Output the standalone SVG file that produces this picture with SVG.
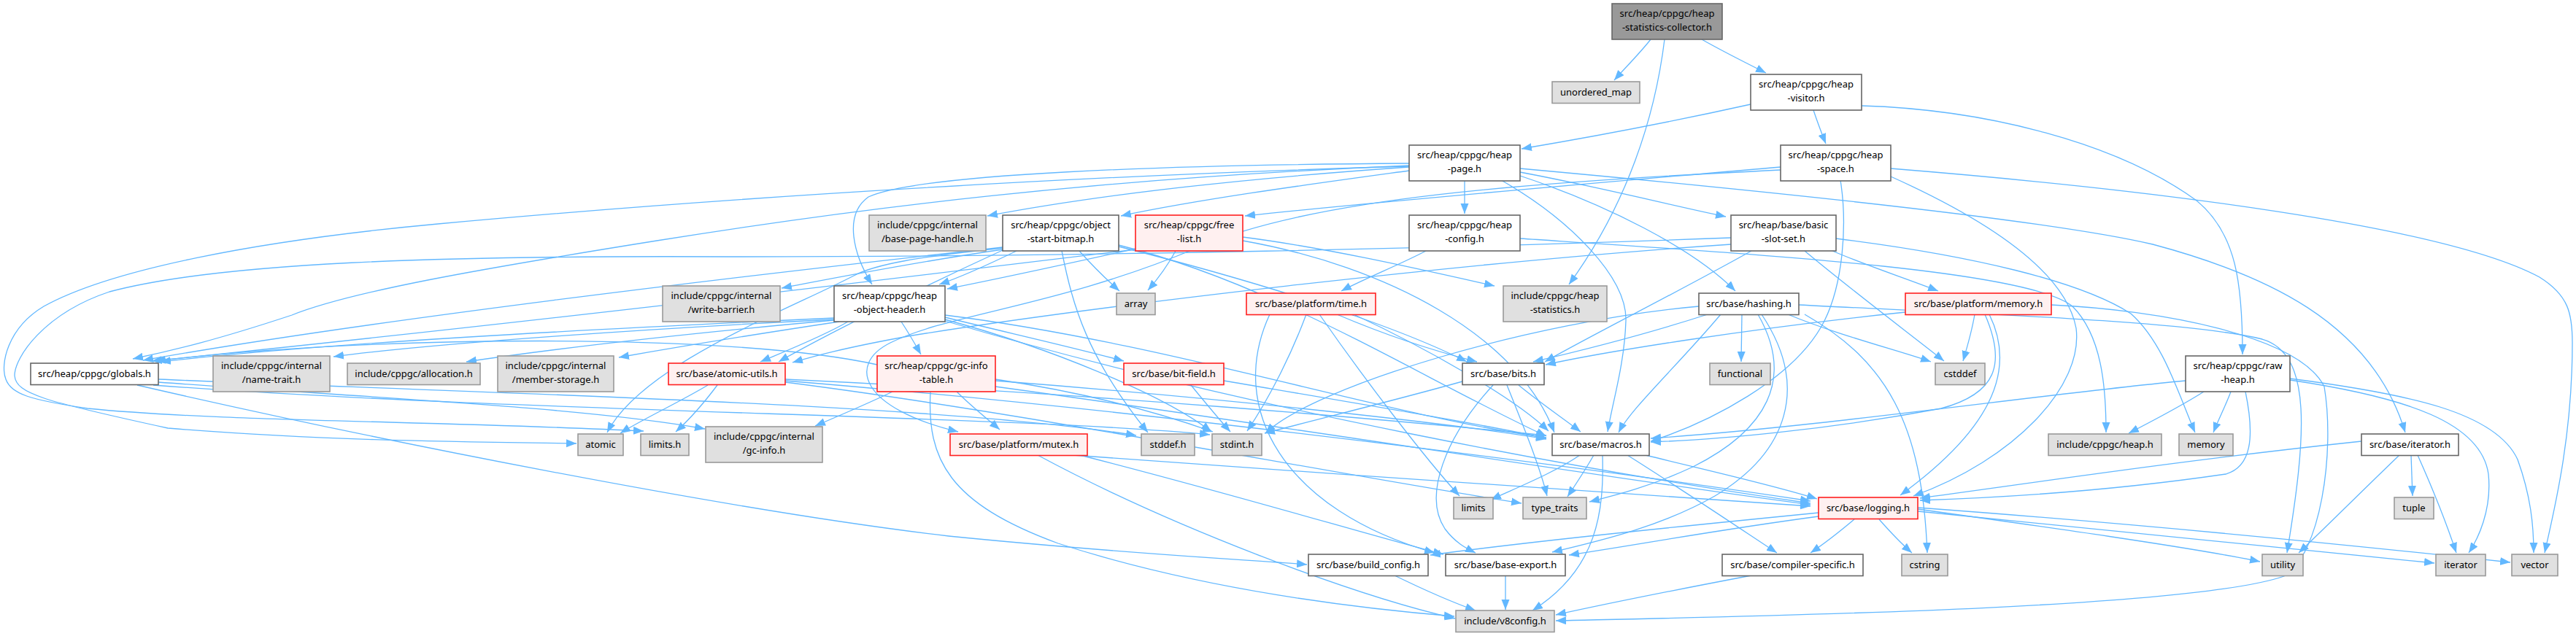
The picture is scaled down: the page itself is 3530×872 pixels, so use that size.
<svg xmlns="http://www.w3.org/2000/svg" width="3530" height="872" viewBox="0 0 3530 872">
<style>
rect{stroke-width:1.6}
.n rect{fill:#ffffff;stroke:#666666}
.g rect{fill:#e0e0e0;stroke:#999999}
.r rect{fill:#fff0f0;stroke:#ff2020}
.root rect{fill:#999999;stroke:#666666}
text{font-family:"Noto Sans","Open Sans",sans-serif;font-size:13px;text-anchor:middle;fill:#000}
#edges path{fill:none;stroke:#63b8ff;stroke-width:1.3;marker-end:url(#a)}
</style>
<defs>
<marker id="a" markerUnits="userSpaceOnUse" markerWidth="15" markerHeight="12" refX="14" refY="5.5" orient="auto"><path d="M0,0 L14,5.5 L0,11 Z" fill="#63b8ff" stroke="none"/></marker>
</defs>
<rect x="0" y="0" width="3530" height="872" fill="#ffffff"/>
<g id="edges">
<path d="M2262,54 C2248,72 2228,92 2212,110"/>
<path d="M2281,54 C2268,160 2230,280 2150,390"/>
<path d="M2332,54 C2360,70 2392,86 2420,100"/>
<path d="M2399,143 C2300,165 2180,188 2085,204"/>
<path d="M2485,151 C2490,166 2496,182 2502,197"/>
<path d="M2551,145 C2720,150 2900,195 3010,275 C3065,320 3073,390 3073,486"/>
<path d="M2440,229 C2200,250 1900,275 1706,296"/>
<path d="M2440,233 C2100,250 1800,270 1640,340 C1450,420 1300,430 1220,470 C1160,500 1180,560 1313,592"/>
<path d="M2522,247 C2532,310 2525,390 2500,440 C2460,520 2340,580 2262,605"/>
<path d="M2591,242 C2720,300 2830,370 2845,450 C2855,530 2760,630 2622,680"/>
<path d="M2591,231 C2950,260 3350,310 3480,380 C3520,405 3525,430 3525,470 C3525,600 3500,700 3487,758"/>
<path d="M2007,248 L2007,293"/>
<path d="M1931,229 C1700,245 1500,268 1353,296"/>
<path d="M1931,234 C1800,252 1650,272 1536,296"/>
<path d="M1931,224 C1600,226 1260,238 1190,270 C1155,295 1170,350 1195,390"/>
<path d="M1931,227 C1500,245 1180,285 900,330 C650,370 480,400 400,432 C300,465 240,480 182,492"/>
<path d="M1931,228 C1500,240 1000,270 600,307 C350,330 150,370 60,420 C10,450 0,500 8,520 C15,540 40,548 120,560 C300,578 600,577 882,591"/>
<path d="M2083,236 C2200,258 2300,284 2365,297"/>
<path d="M2083,241 C2200,280 2320,340 2378,399"/>
<path d="M2057,247 C2150,300 2230,380 2228,440 C2226,500 2210,550 2203,592"/>
<path d="M2083,231 C2400,260 2800,300 2950,335 C3100,375 3250,440 3296,593"/>
<path d="M1954,344 C1920,362 1870,382 1838,399"/>
<path d="M2083,327 C2400,348 2780,370 2840,420 C2880,460 2886,530 2886,593"/>
<path d="M1479,344 C1495,362 1515,382 1534,399"/>
<path d="M1393,344 C1360,360 1322,378 1287,390"/>
<path d="M1374,342 C1250,360 1150,380 1071,395"/>
<path d="M1374,340 C1260,352 1200,362 1170,378 C1080,425 880,500 832,593"/>
<path d="M1374,339 C1000,380 500,440 196,494"/>
<path d="M1374,343 C1250,400 1130,460 1067,496"/>
<path d="M1455,344 C1470,420 1490,490 1573,593"/>
<path d="M1533,338 C1700,380 1900,440 2010,496"/>
<path d="M1533,336 C1750,390 1950,520 2119,598"/>
<path d="M1611,344 C1600,364 1587,382 1573,398"/>
<path d="M1556,341 C1470,360 1380,380 1298,396"/>
<path d="M1703,325 C1820,340 1950,370 2048,392"/>
<path d="M1556,342 C1200,385 700,445 208,495"/>
<path d="M1703,330 C1900,365 2080,460 2130,593"/>
<path d="M1143,438 C900,450 600,470 457,489"/>
<path d="M1143,439 C1000,452 800,472 639,496"/>
<path d="M1150,441 C1050,456 950,472 848,490"/>
<path d="M1162,441 C1130,460 1080,480 1042,496"/>
<path d="M1235,441 C1245,456 1253,470 1262,486"/>
<path d="M1295,435 C1380,456 1470,476 1540,495"/>
<path d="M1143,436 C800,452 450,470 220,496"/>
<path d="M1295,438 C1450,480 1600,545 1660,592"/>
<path d="M1295,432 C1600,470 1900,570 2119,600"/>
<path d="M1295,440 C1700,560 2200,650 2481,690"/>
<path d="M217,524 C500,545 800,558 966,588"/>
<path d="M217,520 C700,540 1300,555 1557,597"/>
<path d="M210,528 C700,565 1400,570 1658,596"/>
<path d="M188,528 C500,600 1000,700 1300,735 C1550,760 1720,768 1791,774"/>
<path d="M970,528 C930,552 880,575 850,594"/>
<path d="M983,528 C965,552 945,575 926,592"/>
<path d="M1076,524 C1400,565 1800,645 2085,690"/>
<path d="M1076,520 C1500,540 1900,575 2119,597"/>
<path d="M1076,522 C1600,565 2200,645 2481,687"/>
<path d="M1311,537 C1330,556 1350,572 1370,589"/>
<path d="M1223,537 C1190,553 1150,570 1117,584"/>
<path d="M1275,537 C1270,630 1300,690 1450,745 C1650,810 1870,835 1993,845"/>
<path d="M1364,520 C1500,540 1600,570 1662,592"/>
<path d="M1364,522 C1700,548 2000,582 2119,602"/>
<path d="M1364,530 C1800,590 2200,655 2481,692"/>
<path d="M1202,500 C1000,455 500,460 213,495"/>
<path d="M1632,528 C1650,550 1668,572 1686,592"/>
<path d="M1677,522 C1900,560 2050,585 2119,601"/>
<path d="M1790,431 C1770,485 1740,545 1709,591"/>
<path d="M1808,431 C1870,520 1950,625 2000,680"/>
<path d="M1832,431 C1900,460 1960,480 2024,496"/>
<path d="M1855,431 C1950,475 2075,545 2122,591"/>
<path d="M1740,431 C1680,560 1760,700 1966,758"/>
<path d="M2387,431 L2386,496"/>
<path d="M2450,431 C2520,460 2600,480 2646,496"/>
<path d="M2473,431 C2585,495 2634,580 2641,758"/>
<path d="M2340,431 C2250,460 2170,480 2101,496"/>
<path d="M2358,431 C2300,500 2235,560 2218,593"/>
<path d="M2409,431 C2460,520 2420,590 2320,640 C2260,668 2210,680 2178,688"/>
<path d="M2414,431 C2480,530 2450,620 2350,680 C2280,720 2200,740 2127,757"/>
<path d="M2465,418 C2700,430 3000,440 3100,465 C3170,485 3160,600 3134,758"/>
<path d="M2328,420 C2100,440 1800,530 1734,594"/>
<path d="M2511,344 C2560,365 2610,381 2656,399"/>
<path d="M2473,344 C2540,400 2620,460 2664,495"/>
<path d="M2400,344 C2300,400 2180,460 2117,496"/>
<path d="M2372,335 C2000,360 1500,420 1250,460 C1150,478 1110,490 1086,497"/>
<path d="M2372,326 C2000,340 1500,352 1000,352 C600,350 300,360 150,400 C60,430 20,490 20,515 C22,540 60,550 230,587 C450,605 650,606 790,608"/>
<path d="M2516,327 C2700,350 2850,385 2920,430 C2965,470 2985,540 3008,593"/>
<path d="M2706,431 C2702,455 2696,475 2690,495"/>
<path d="M2726,431 C2760,500 2740,580 2604,679"/>
<path d="M2720,431 C2750,500 2735,540 2660,560 C2500,590 2350,603 2262,606"/>
<path d="M2611,428 C2400,450 2200,482 2118,500"/>
<path d="M2811,418 C2960,425 3150,460 3185,530 C3200,620 3180,760 3130,790 C3000,835 2400,845 2132,851"/>
<path d="M3020,537 C2990,556 2950,577 2917,594"/>
<path d="M3057,537 C3050,556 3040,575 3033,593"/>
<path d="M3077,537 C3090,600 3085,640 3050,650 C2900,672 2750,682 2631,686"/>
<path d="M2995,522 C2800,540 2500,585 2262,601"/>
<path d="M3138,521 C3300,545 3400,580 3410,650 C3415,700 3395,740 3383,758"/>
<path d="M3138,519 C3300,540 3420,565 3450,630 C3468,680 3472,720 3472,758"/>
<path d="M3304,624 L3306,680"/>
<path d="M3313,624 C3330,662 3350,710 3366,758"/>
<path d="M3288,624 C3240,670 3190,720 3150,758"/>
<path d="M3236,605 C3000,630 2800,660 2631,683"/>
<path d="M2165,624 C2130,648 2080,668 2043,685"/>
<path d="M2184,624 C2172,645 2160,663 2148,681"/>
<path d="M2196,624 C2198,700 2190,780 2100,837"/>
<path d="M2230,624 C2300,668 2370,715 2435,758"/>
<path d="M2255,624 C2340,645 2430,665 2490,684"/>
<path d="M2004,523 C1900,552 1800,576 1733,594"/>
<path d="M2046,528 C1980,600 1950,680 1980,725 C1995,745 2010,752 2022,758"/>
<path d="M2065,528 C2090,590 2110,640 2120,680"/>
<path d="M2081,528 C2110,552 2140,572 2166,592"/>
<path d="M2541,712 C2522,728 2502,744 2481,758"/>
<path d="M2575,712 C2590,729 2605,745 2620,758"/>
<path d="M2492,703 C2300,722 2100,742 1960,761"/>
<path d="M2492,708 C2350,727 2250,746 2150,761"/>
<path d="M2628,698 C2800,722 3000,750 3097,770"/>
<path d="M2628,701 C2900,730 3150,752 3336,772"/>
<path d="M2628,696 C2900,716 3200,745 3440,771"/>
<path d="M1470,624 C1800,650 2200,672 2481,694"/>
<path d="M1480,624 C1700,680 1880,735 1978,760"/>
<path d="M1422,624 C1600,720 1850,815 1994,848"/>
<path d="M1911,789 C1950,808 1985,824 2022,837"/>
<path d="M2063,790 L2063,836"/>
<path d="M2400,789 C2300,808 2200,828 2132,843"/>
</g>
<g id="root" class="root"><rect x="2209" y="5" width="151" height="49"/><text x="2284.5" y="23.2">src/heap/cppgc/heap</text><text x="2284.5" y="42.2">-statistics-collector.h</text></g>
<g id="unordered_map" class="g"><rect x="2127" y="112" width="120" height="29.5"/><text x="2187" y="131.2">unordered_map</text></g>
<g id="heap-visitor" class="n"><rect x="2399" y="102" width="152" height="49"/><text x="2475" y="120.2">src/heap/cppgc/heap</text><text x="2475" y="139.2">-visitor.h</text></g>
<g id="heap-page" class="n"><rect x="1931" y="199" width="152" height="49"/><text x="2007" y="217.2">src/heap/cppgc/heap</text><text x="2007" y="236.2">-page.h</text></g>
<g id="heap-space" class="n"><rect x="2440" y="199" width="151" height="49"/><text x="2515.5" y="217.2">src/heap/cppgc/heap</text><text x="2515.5" y="236.2">-space.h</text></g>
<g id="raw-heap" class="n"><rect x="2995" y="488" width="143" height="49"/><text x="3066.5" y="506.2">src/heap/cppgc/raw</text><text x="3066.5" y="525.2">-heap.h</text></g>
<g id="heap-statistics" class="g"><rect x="2060" y="392" width="142" height="49"/><text x="2131" y="410.2">include/cppgc/heap</text><text x="2131" y="429.2">-statistics.h</text></g>
<g id="base-page-handle" class="g"><rect x="1191" y="295" width="160" height="49"/><text x="1271" y="313.2">include/cppgc/internal</text><text x="1271" y="332.2">/base-page-handle.h</text></g>
<g id="object-start-bitmap" class="n"><rect x="1374" y="295" width="159" height="49"/><text x="1453.5" y="313.2">src/heap/cppgc/object</text><text x="1453.5" y="332.2">-start-bitmap.h</text></g>
<g id="free-list" class="r"><rect x="1556" y="295" width="147" height="49"/><text x="1629.5" y="313.2">src/heap/cppgc/free</text><text x="1629.5" y="332.2">-list.h</text></g>
<g id="heap-config" class="n"><rect x="1931" y="295" width="152" height="49"/><text x="2007" y="313.2">src/heap/cppgc/heap</text><text x="2007" y="332.2">-config.h</text></g>
<g id="basic-slot-set" class="n"><rect x="2372" y="295" width="144" height="49"/><text x="2444" y="313.2">src/heap/base/basic</text><text x="2444" y="332.2">-slot-set.h</text></g>
<g id="write-barrier" class="g"><rect x="908" y="392" width="161" height="49"/><text x="988.5" y="410.2">include/cppgc/internal</text><text x="988.5" y="429.2">/write-barrier.h</text></g>
<g id="heap-object-header" class="n"><rect x="1143" y="392" width="152" height="49"/><text x="1219" y="410.2">src/heap/cppgc/heap</text><text x="1219" y="429.2">-object-header.h</text></g>
<g id="array" class="g"><rect x="1530" y="402" width="53" height="29.5"/><text x="1556.5" y="421.2">array</text></g>
<g id="time" class="r"><rect x="1708" y="402" width="177" height="29.5"/><text x="1796.5" y="421.2">src/base/platform/time.h</text></g>
<g id="hashing" class="n"><rect x="2328" y="402" width="137" height="29.5"/><text x="2396.5" y="421.2">src/base/hashing.h</text></g>
<g id="platform-memory" class="r"><rect x="2611" y="402" width="200" height="29.5"/><text x="2711" y="421.2">src/base/platform/memory.h</text></g>
<g id="globals" class="n"><rect x="42" y="498" width="175" height="29.5"/><text x="129.5" y="517.2">src/heap/cppgc/globals.h</text></g>
<g id="name-trait" class="g"><rect x="292" y="488" width="160" height="49"/><text x="372" y="506.2">include/cppgc/internal</text><text x="372" y="525.2">/name-trait.h</text></g>
<g id="allocation" class="g"><rect x="476" y="498" width="182" height="29.5"/><text x="567" y="517.2">include/cppgc/allocation.h</text></g>
<g id="member-storage" class="g"><rect x="682" y="488" width="159" height="49"/><text x="761.5" y="506.2">include/cppgc/internal</text><text x="761.5" y="525.2">/member-storage.h</text></g>
<g id="atomic-utils" class="r"><rect x="916" y="498" width="160" height="29.5"/><text x="996" y="517.2">src/base/atomic-utils.h</text></g>
<g id="gc-info-table" class="r"><rect x="1202" y="488" width="162" height="49"/><text x="1283" y="506.2">src/heap/cppgc/gc-info</text><text x="1283" y="525.2">-table.h</text></g>
<g id="bit-field" class="r"><rect x="1540" y="498" width="137" height="29.5"/><text x="1608.5" y="517.2">src/base/bit-field.h</text></g>
<g id="bits" class="n"><rect x="2004" y="498" width="112" height="29.5"/><text x="2060" y="517.2">src/base/bits.h</text></g>
<g id="functional" class="g"><rect x="2343" y="498" width="83" height="29.5"/><text x="2384.5" y="517.2">functional</text></g>
<g id="cstddef" class="g"><rect x="2652" y="498" width="68" height="29.5"/><text x="2686" y="517.2">cstddef</text></g>
<g id="atomic" class="g"><rect x="792" y="595" width="62" height="29.5"/><text x="823" y="614.2">atomic</text></g>
<g id="limits-h" class="g"><rect x="878" y="595" width="66" height="29.5"/><text x="911" y="614.2">limits.h</text></g>
<g id="gc-info" class="g"><rect x="967" y="585" width="160" height="49"/><text x="1047" y="603.2">include/cppgc/internal</text><text x="1047" y="622.2">/gc-info.h</text></g>
<g id="mutex" class="r"><rect x="1302" y="595" width="188" height="29.5"/><text x="1396" y="614.2">src/base/platform/mutex.h</text></g>
<g id="stddef" class="g"><rect x="1564" y="595" width="73" height="29.5"/><text x="1600.5" y="614.2">stddef.h</text></g>
<g id="stdint" class="g"><rect x="1661" y="595" width="68" height="29.5"/><text x="1695" y="614.2">stdint.h</text></g>
<g id="macros" class="n"><rect x="2127" y="595" width="133" height="29.5"/><text x="2193.5" y="614.2">src/base/macros.h</text></g>
<g id="cppgc-heap" class="g"><rect x="2807" y="595" width="155" height="29.5"/><text x="2884.5" y="614.2">include/cppgc/heap.h</text></g>
<g id="memory" class="g"><rect x="2986" y="595" width="74" height="29.5"/><text x="3023" y="614.2">memory</text></g>
<g id="iterator-h" class="n"><rect x="3236" y="595" width="133" height="29.5"/><text x="3302.5" y="614.2">src/base/iterator.h</text></g>
<g id="limits" class="g"><rect x="1992" y="682" width="54" height="29.5"/><text x="2019" y="701.2">limits</text></g>
<g id="type_traits" class="g"><rect x="2087" y="682" width="87" height="29.5"/><text x="2130.5" y="701.2">type_traits</text></g>
<g id="logging" class="r"><rect x="2492" y="682" width="136" height="29.5"/><text x="2560" y="701.2">src/base/logging.h</text></g>
<g id="tuple" class="g"><rect x="3281" y="682" width="54" height="29.5"/><text x="3308" y="701.2">tuple</text></g>
<g id="build_config" class="n"><rect x="1793" y="760" width="164" height="29.5"/><text x="1875" y="779.2">src/base/build_config.h</text></g>
<g id="base-export" class="n"><rect x="1981" y="760" width="164" height="29.5"/><text x="2063" y="779.2">src/base/base-export.h</text></g>
<g id="compiler-specific" class="n"><rect x="2360" y="760" width="193" height="29.5"/><text x="2456.5" y="779.2">src/base/compiler-specific.h</text></g>
<g id="cstring" class="g"><rect x="2606" y="760" width="63" height="29.5"/><text x="2637.5" y="779.2">cstring</text></g>
<g id="utility" class="g"><rect x="3100" y="760" width="56" height="29.5"/><text x="3128" y="779.2">utility</text></g>
<g id="iterator" class="g"><rect x="3338" y="760" width="68" height="29.5"/><text x="3372" y="779.2">iterator</text></g>
<g id="vector" class="g"><rect x="3442" y="760" width="63" height="29.5"/><text x="3473.5" y="779.2">vector</text></g>
<g id="v8config" class="g"><rect x="1995" y="837" width="135" height="29.5"/><text x="2062.5" y="856.2">include/v8config.h</text></g>
</svg>
